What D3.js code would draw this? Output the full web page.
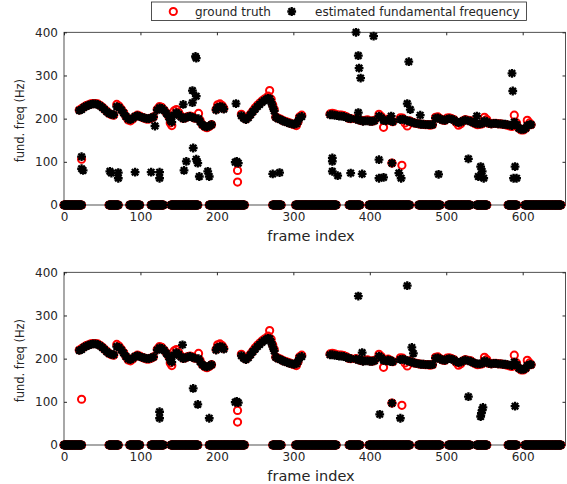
<!DOCTYPE html>
<html>
<head>
<meta charset="utf-8">
<script src="https://cdn.jsdelivr.net/npm/d3@7"></script>
<style>
  body { margin: 0; background: #fff; }
  svg { display: block; }
  text { font-family: "DejaVu Sans", sans-serif; fill: #262626; }
</style>
</head>
<body>
<div id="chart"></div>
<script>
// tick labels
var frameTicks = [0, 100, 200, 300, 400, 500, 600];
var freqTicks = [0, 100, 200, 300, 400];

// unvoiced frames (value 0), as [first, last] frame of each run
var zeroRuns = [[0, 23], [59, 71], [86, 99], [114, 130], [140, 175], [190, 236], [273, 284],
  [303, 356], [373, 387], [399, 452], [464, 492], [503, 531], [540, 553], [581, 592], [603, 650]];

// ground truth, voiced frames [frame, Hz]
var groundTruth = [
  [20, 220], [23, 223], [26, 227], [29, 230], [32, 232], [35, 234], [38, 235], [41, 235], [44, 234], [47, 231],
  [50, 227], [53, 222], [56, 217], [59, 212], [62, 209], [65, 208],
  [69, 233], [72, 229], [75, 222], [78, 214], [81, 205], [84, 197], [87, 195], [90, 199], [93, 205], [96, 208],
  [99, 206], [102, 203], [105, 201], [108, 199], [111, 199], [114, 201], [117, 204],
  [122, 222], [125, 228], [128, 226], [131, 220], [134, 213], [137, 205], [139, 190], [141, 184], [144, 218],
  [147, 221], [150, 214], [153, 206], [156, 201], [159, 202], [162, 205], [165, 206], [168, 204], [171, 201],
  [176, 212], [178, 196], [181, 186], [184, 181], [187, 179], [190, 182], [193, 186],
  [199, 222], [201, 232], [204, 234], [207, 230], [209, 224],
  [23, 106], [227, 80], [227, 53],
  [232, 210], [235, 203], [238, 199], [241, 204], [244, 211], [247, 218], [250, 225], [253, 231], [256, 236],
  [259, 241], [262, 245], [265, 248], [267, 252], [269, 265], [271, 245], [273, 232], [275, 222], [277, 204],
  [280, 201], [283, 199], [286, 196], [289, 194], [292, 192], [295, 190], [298, 188], [301, 186], [304, 184],
  [306, 192], [308, 204], [311, 208],
  [348, 211], [351, 212], [354, 211], [357, 209], [360, 208], [363, 208], [366, 207], [369, 205], [372, 201], [375, 200],
  [382, 200], [385, 198], [388, 196], [391, 195], [394, 196], [397, 197], [400, 195], [403, 194], [406, 196],
  [412, 210], [415, 205], [418, 180], [421, 196], [424, 199], [427, 196], [430, 193],
  [429, 97], [442, 92],
  [440, 202], [443, 201], [446, 190], [449, 183], [452, 195], [455, 192], [458, 190], [461, 189], [464, 188],
  [467, 187], [470, 187], [473, 186], [476, 186], [479, 185], [482, 186],
  [486, 203], [489, 204], [492, 200], [495, 197], [498, 196], [501, 201], [504, 202], [507, 200], [510, 198],
  [513, 191], [516, 185], [519, 188], [522, 195], [525, 198],
  [529, 196], [532, 195], [535, 191], [538, 188], [541, 186], [544, 187], [547, 188], [550, 203], [553, 198],
  [556, 189], [559, 188], [562, 189], [565, 189], [568, 188], [571, 188], [574, 187], [577, 186],
  [580, 185], [583, 183], [586, 182], [589, 208], [592, 190], [595, 178], [598, 174], [601, 174], [604, 178],
  [606, 196], [609, 190], [611, 186]
];

// estimated f0 track common to both panels [frame, Hz]
var estimated = [
  [20, 219], [23, 221], [26, 226], [29, 229], [32, 231], [35, 233], [38, 234], [41, 234], [44, 233], [47, 230],
  [50, 226], [53, 221], [56, 216], [59, 212], [62, 210], [65, 209],
  [69, 228], [72, 226], [75, 220], [78, 213], [81, 205], [84, 199], [87, 198], [90, 201], [93, 205], [96, 207],
  [99, 205], [102, 203], [105, 202], [108, 200], [111, 200], [114, 202], [117, 204],
  [122, 220], [125, 225], [128, 224], [131, 219], [134, 212], [137, 204], [139, 196], [141, 192], [144, 208],
  [147, 214], [150, 210], [153, 204], [156, 200], [159, 202], [162, 204], [165, 205], [168, 203], [171, 201],
  [176, 200], [178, 193], [181, 186], [184, 182], [187, 181], [190, 183], [193, 186],
  [199, 220], [201, 226], [204, 228], [207, 227], [209, 222],
  [232, 207], [235, 201], [238, 198], [241, 202], [244, 209], [247, 216], [250, 222], [253, 228], [256, 233],
  [259, 238], [262, 242], [265, 245], [267, 247], [269, 246], [271, 238], [273, 228], [275, 218], [277, 203],
  [280, 200], [283, 198], [286, 195], [289, 193], [292, 191], [295, 189], [298, 188], [301, 187], [304, 188],
  [306, 193], [308, 202], [311, 205],
  [348, 209], [351, 209], [354, 208], [357, 207], [360, 206], [363, 206], [366, 205], [369, 203], [372, 201], [375, 200],
  [382, 199], [385, 197], [388, 196], [391, 194], [394, 195], [397, 195], [400, 194], [403, 194], [406, 195],
  [412, 206], [415, 202], [418, 196], [421, 195], [424, 197], [427, 196], [430, 193],
  [440, 198], [443, 199], [446, 197], [449, 195], [452, 194], [455, 192], [458, 190], [461, 189], [464, 188],
  [467, 187], [470, 187], [473, 186], [476, 186], [479, 186], [482, 186],
  [486, 201], [489, 202], [492, 199], [495, 197], [498, 196], [501, 199], [504, 200], [507, 199], [510, 197],
  [513, 193], [516, 191], [519, 192], [522, 195], [525, 197],
  [529, 195], [532, 194], [535, 191], [538, 189], [541, 188], [544, 188], [547, 189], [550, 195], [553, 193],
  [556, 189], [559, 188], [562, 189], [565, 189], [568, 188], [571, 188], [574, 187], [577, 187],
  [580, 186], [583, 185], [586, 184], [589, 192], [592, 186], [595, 178], [598, 175], [601, 175], [604, 178],
  [606, 184], [609, 186], [611, 186]
];

// estimator errors, top panel
var estExtraTop = [
  [23, 112], [23, 84], [25, 80], [60, 78], [62, 74], [71, 75], [71, 62], [93, 76], [114, 76], [119, 183],
  [125, 76], [125, 62], [156, 233], [157, 80], [160, 101], [168, 237], [168, 265], [169, 132], [172, 344],
  [173, 340], [173, 252], [173, 106], [175, 97], [177, 66], [188, 78], [190, 66], [225, 235], [224, 99],
  [226, 101], [228, 97], [273, 72], [282, 75],
  [351, 109], [351, 101], [351, 78], [358, 68], [375, 74], [382, 400], [385, 346], [386, 317], [388, 294],
  [385, 214], [390, 72], [405, 391], [412, 105], [412, 62], [418, 64], [429, 97], [428, 206], [438, 74],
  [441, 62], [449, 235], [451, 332], [453, 221], [466, 208], [490, 71], [529, 107], [540, 206], [542, 66],
  [545, 89], [547, 78], [549, 62], [586, 305], [587, 264], [590, 89], [588, 62], [592, 62]
];

// estimator errors, bottom panel
var estExtraBottom = [
  [125, 77], [125, 62], [155, 232], [169, 131], [175, 94], [190, 62], [224, 99], [226, 101], [228, 98],
  [385, 345], [390, 214], [413, 71], [427, 193], [429, 97], [440, 62], [449, 369], [455, 226], [457, 212],
  [529, 112], [545, 66], [546, 74], [547, 81], [548, 87], [590, 90]
];

var zeros = [];
zeroRuns.forEach(function (r) {
  for (var f = r[0]; f <= r[1]; f++) zeros.push([f, 0]);
});

var svg = d3.select("#chart").append("svg").attr("width", 567).attr("height", 484);

var x = d3.scaleLinear().domain([0, 656]).range([64, 565.5]);

// '*' marker like matlab
var star = "M-4.4,0H4.4M0,-4.4V4.4M-3.2,-3.2L3.2,3.2M-3.2,3.2L3.2,-3.2";

function drawPanel(top, extra) {
  var y = d3.scaleLinear().domain([0, 400]).range([top + 172.7, top]);
  var g = svg.append("g");

  // axes
  g.append("g").attr("transform", "translate(0," + y(0) + ")")
    .call(d3.axisBottom(x).tickValues(frameTicks).tickSizeInner(-3).tickSizeOuter(0).tickPadding(7))
    .call(a => a.select(".domain").remove())
    .selectAll("text").style("font-size", "12px");
  g.append("g").attr("transform", "translate(" + x.range()[0] + ",0)")
    .call(d3.axisLeft(y).tickValues(freqTicks).tickSizeInner(-3).tickSizeOuter(0).tickPadding(6))
    .call(a => a.select(".domain").remove())
    .selectAll("text").style("font-size", "12px");
  g.append("g").attr("transform", "translate(0," + y(400) + ")")
    .call(d3.axisTop(x).tickValues(frameTicks).tickSizeInner(-3).tickSizeOuter(0).tickFormat(""))
    .call(a => a.select(".domain").remove());
  g.append("g").attr("transform", "translate(" + x.range()[1] + ",0)")
    .call(d3.axisRight(y).tickValues(freqTicks).tickSizeInner(-3).tickSizeOuter(0).tickFormat(""))
    .call(a => a.select(".domain").remove());
  g.selectAll(".tick line").attr("stroke", "#262626");
  g.selectAll(".tick text").attr("fill", "#262626").style("font-family", "'DejaVu Sans', sans-serif");

  g.append("rect")
    .attr("x", x.range()[0]).attr("y", y(400))
    .attr("width", x.range()[1] - x.range()[0]).attr("height", y(0) - y(400))
    .attr("fill", "none").attr("stroke", "#262626").attr("stroke-width", 0.8);

  // ground truth
  g.append("g").selectAll("circle")
    .data(zeros.concat(groundTruth))
    .enter().append("circle")
    .attr("cx", d => x(d[0])).attr("cy", d => y(d[1])).attr("r", 3.6)
    .attr("fill", "none").attr("stroke", "#ff0000").attr("stroke-width", 2);

  // estimates
  g.append("g").selectAll("path")
    .data(zeros.slice().concat(estimated, extra))
    .enter().append("path")
    .attr("d", star)
    .attr("transform", d => "translate(" + x(d[0]) + "," + y(d[1]) + ")")
    .attr("fill", "none").attr("stroke", "#000").attr("stroke-width", 2.3);

  g.append("text").attr("x", 311).attr("y", y(0) + 36)
    .attr("text-anchor", "middle").style("font-size", "14.5px").text("frame index");
  g.append("text")
    .attr("transform", "translate(24," + (y(200) + 2) + ") rotate(-90)")
    .attr("text-anchor", "middle").style("font-size", "11.5px").text("fund. freq (Hz)");
}

drawPanel(32.3, estExtraTop);
drawPanel(272.3, estExtraBottom);

// legend
var leg = svg.append("g");
leg.append("rect").attr("x", 151.5).attr("y", 2).attr("width", 375).attr("height", 18.5)
  .attr("fill", "#fff").attr("stroke", "#262626").attr("stroke-width", 0.8);
leg.append("circle").attr("cx", 173.3).attr("cy", 11.5).attr("r", 3.6)
  .attr("fill", "none").attr("stroke", "#ff0000").attr("stroke-width", 2);
leg.append("text").attr("x", 195).attr("y", 16).style("font-size", "12px").text("ground truth");
leg.append("path").attr("d", star).attr("transform", "translate(291.7,11.5)")
  .attr("fill", "none").attr("stroke", "#000").attr("stroke-width", 2.3);
leg.append("text").attr("x", 315).attr("y", 16).style("font-size", "12px").text("estimated fundamental frequency");
</script>
</body>
</html>
